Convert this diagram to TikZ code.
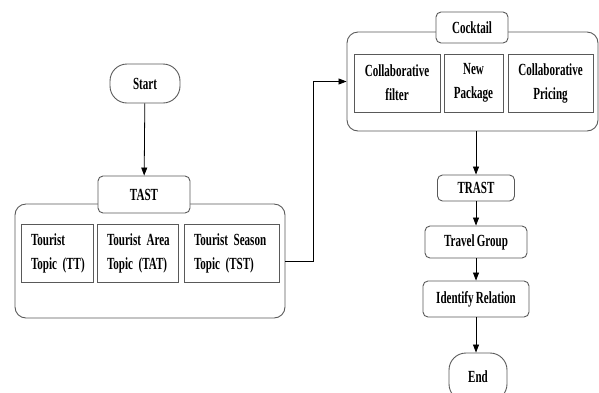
\documentclass[tikz,border=0pt]{standalone}
\usepackage{fontspec}
\setmainfont{Liberation Serif}[FakeStretch=0.65, WordSpace=0.8]
\usetikzlibrary{arrows.meta}
\begin{document}
\begin{tikzpicture}[x=1pt,y=1pt,
    every node/.style={font=\bfseries\fontsize{17}{24}\selectfont, align=center,
      inner sep=0pt, draw=black!65, line width=0.9pt},
    terminal/.style={rounded corners=17pt},
    titlebox/.style={rounded corners=5pt, fill=white},
    stepbox/.style={rounded corners=5pt},
    group/.style={rounded corners=11pt},
    topic/.style={align=left, text width=#1-20pt, minimum width=#1, minimum height=58pt},
    item/.style={minimum height=58pt},
    flow/.style={-{Triangle[length=8pt,width=6pt]}, line width=0.8pt, black}]
  \useasboundingbox (0,0) rectangle (599,-392);
  % TAST group
  \draw
    (145,-83.5) node[terminal, minimum width=70pt, minimum height=39pt] (start){Start}
    (150,-261) node[group, minimum width=270pt, minimum height=114pt] (tastgroup){}
    (144,-194.5) node[titlebox, minimum width=92pt, minimum height=37pt] (tast){TAST}
    (57,-253) node[topic=72pt] (tt){Tourist\\Topic~(TT)}
    (137.5,-253) node[topic=81pt] (tat){Tourist~Area\\Topic~(TAT)}
    (231.5,-253) node[topic=95pt] (tst){Tourist~Season\\Topic~(TST)};
  % Cocktail group
  \draw
    (472.5,-81.5) node[group, minimum width=251pt, minimum height=99pt] (cocktailgroup){}
    (472,-27.5) node[titlebox, minimum width=72pt, minimum height=31pt] (cocktail){Cocktail}
    (397,-83) node[item, minimum width=86pt] (cf){Collaborative\\filter}
    (473.5,-83) node[item, minimum width=59pt] (np){New\\Package}
    (550.5,-83) node[item, minimum width=85pt] (cp){Collaborative\\Pricing};
  % TRAST steps
  \draw
    (476,-188) node[stepbox, minimum width=77pt, minimum height=26pt] (trast){TRAST}
    (476,-242) node[stepbox, minimum width=102pt, minimum height=32pt] (travel){Travel Group}
    (476,-299) node[stepbox, minimum width=106pt, minimum height=36pt] (identify){Identify Relation}
    (478,-377) node[terminal, minimum width=58pt, minimum height=48pt] (end){End};
  \begin{scope}[flow]
    \draw (start) -- (tast);
    \draw (tastgroup.east) -- ++(28,0) |- (cocktailgroup.west);
    \draw (cocktailgroup.south -| trast) -- (trast);
    \draw (trast) -- (travel);
    \draw (travel) -- (identify);
    \draw (identify.south -| trast) -- (end.north -| trast);
  \end{scope}
\end{tikzpicture}
\end{document}
